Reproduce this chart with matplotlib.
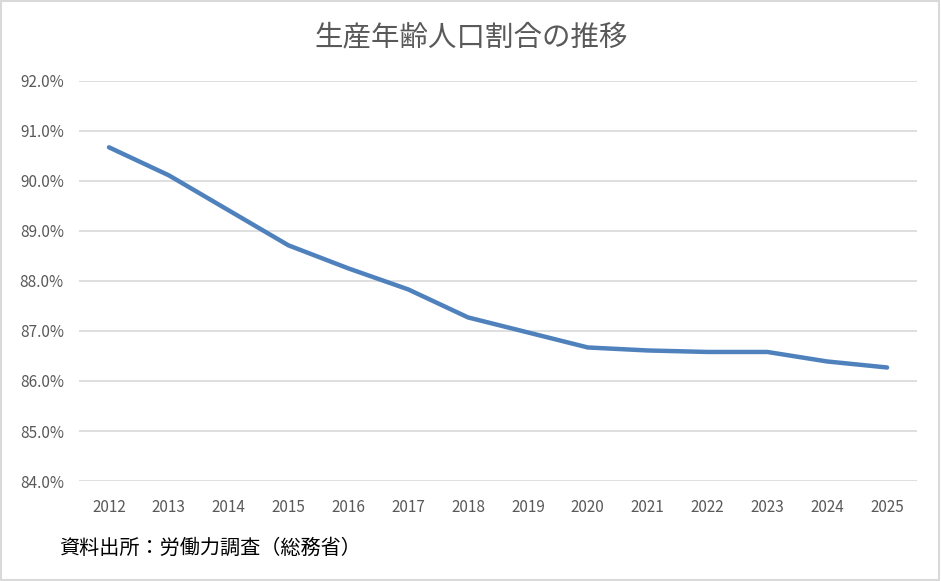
import matplotlib
matplotlib.use("Agg")
import matplotlib.pyplot as plt
from matplotlib.ticker import FuncFormatter
from matplotlib.patches import Rectangle

plt.rcParams['font.family'] = ['Noto Sans CJK JP', 'DejaVu Sans']

# 年と生産年齢人口割合(%)
years = ["2012", "2013", "2014", "2015", "2016", "2017", "2018",
         "2019", "2020", "2021", "2022", "2023", "2024", "2025"]
ratio = [90.67, 90.11, 89.41, 88.71, 88.25, 87.83, 87.27,
         86.97, 86.67, 86.61, 86.58, 86.58, 86.39, 86.27]

title = "生産年齢人口割合の推移"
source = "資料出所：労働力調査（総務省）"

fig = plt.figure(figsize=(9.41, 5.81), dpi=100)
ax = fig.add_axes([0.084, 0.172, 0.8905, 0.689])

x = list(range(len(years)))
ax.plot(x, ratio, color="#4f81bd", linewidth=3.2, solid_capstyle="round",
        solid_joinstyle="round", zorder=3)

ax.set_xlim(-0.5, len(years) - 0.5)
ax.set_ylim(84, 92)
ax.set_yticks(range(84, 93))
ax.yaxis.set_major_formatter(FuncFormatter(lambda v, p: f"{v:.1f}%"))
ax.set_xticks(x)
ax.set_xticklabels(years)

ax.grid(axis="y", color="#d9d9d9", linewidth=1.2)
ax.set_axisbelow(True)
for s in ax.spines.values():
    s.set_visible(False)
ax.tick_params(length=0, labelsize=11, labelcolor="#595959")
ax.tick_params(axis="x", pad=13)
ax.tick_params(axis="y", pad=11)

fig.text(0.501, 0.936, title, ha="center", va="center", fontsize=20.5, color="#595959")
fig.text(0.063, 0.057, source, ha="left", va="center", fontsize=14.5, color="black")

# 外枠
fig.patches.append(Rectangle((0.001, 0.002), 0.997, 0.996, transform=fig.transFigure,
                             fill=False, edgecolor="#d9d9d9", linewidth=1.5))

fig.savefig("out.png", dpi=100)
